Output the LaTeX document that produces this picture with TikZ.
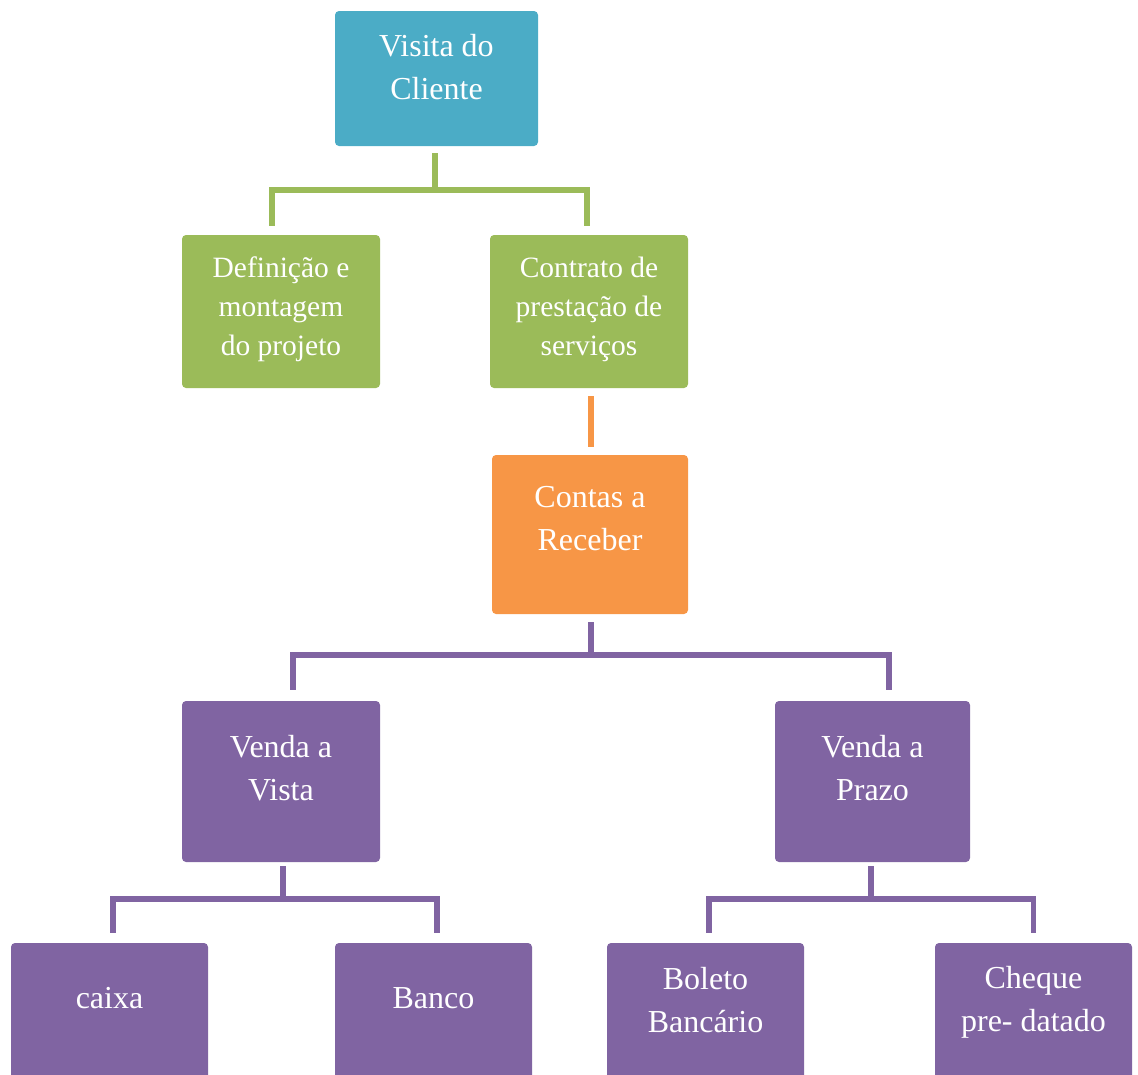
\documentclass[tikz,border=0pt]{standalone}
\usepackage{fontspec}
\setmainfont{Liberation Serif}
\usetikzlibrary{positioning}
\definecolor{cteal}{HTML}{4BACC6}
\definecolor{cgreen}{HTML}{9BBB59}
\definecolor{corange}{HTML}{F79646}
\definecolor{cpurple}{HTML}{8064A2}
\tikzstyle{box} = [rectangle, rounded corners=4pt, inner sep=0pt,
  minimum width=198pt, minimum height=161pt]
\tikzstyle{txt} = [text=white, align=center, inner sep=0pt,
  font=\fontsize{32}{43}\selectfont]
\tikzstyle{small} = [txt, font=\fontsize{29.5}{39}\selectfont]
\tikzstyle{link} = [line width=5.5pt]

\begin{document}
\begin{tikzpicture}[x=1pt,y=-1pt]

    \useasboundingbox (0,0) rectangle (1138,1074);
    \clip (0,0) rectangle (1138,1074);

    % boxes
    \node [box, fill=cteal, minimum width=203pt, minimum height=135pt] at (436.5,78.5) (visita) {};
    \node [box, fill=cgreen, minimum height=153pt] at (281,311.5) (def) {};
    \node [box, fill=cgreen, minimum height=153pt] at (589,311.5) (contr) {};
    \node [box, fill=corange, minimum width=196pt, minimum height=159pt] at (590,534.5) (contas) {};
    \node [box, fill=cpurple] at (281,781.5) (vvista) {};
    \node [box, fill=cpurple, minimum width=195pt] at (872.5,781.5) (vprazo) {};
    \node [box, fill=cpurple, minimum width=197pt] at (109.5,1023.5) (caixa) {};
    \node [box, fill=cpurple, minimum width=197pt] at (433.5,1023.5) (banco) {};
    \node [box, fill=cpurple, minimum width=197pt] at (705.5,1023.5) (boleto) {};
    \node [box, fill=cpurple, minimum width=197pt] at (1033.5,1023.5) (cheque) {};

    % texts
    \node [txt] at (436.5,67) (visita-t) {Visita do\\Cliente};
    \node [small] at (281,309.5) (def-t) {Definição e\\montagem\\do projeto};
    \node [small] at (589,309.5) (contr-t) {Contrato de\\prestação de\\serviços};
    \node [txt] at (590,519) (contas-t) {Contas a\\Receber};
    \node [txt] at (281,768) (vvista-t) {Venda a\\Vista};
    \node [txt] at (872.5,768) (vprazo-t) {Venda a\\Prazo};
    \node [txt] at (109.5,998) (caixa-t) {caixa};
    \node [txt] at (433.5,998) (banco-t) {Banco};
    \node [txt] at (705.5,1000) (boleto-t) {Boleto\\Bancário};
    \node [txt] at (1033.5,1002) (cheque-t) {Cheque\\pre- datado};

    % connectors
    \draw [link, cgreen] ([xshift=-1.5pt,yshift=-7pt]visita.south) -- ([xshift=-1.5pt,yshift=-44pt]visita.south);
    \draw [link, cgreen] ([xshift=-9pt,yshift=9pt]def.north) |- ([yshift=-44pt]visita.south)
        -| ([xshift=-2pt,yshift=9pt]contr.north);

    \draw [link, corange] ([xshift=2pt,yshift=-8pt]contr.south) -- ([xshift=1pt,yshift=8pt]contas.north);

    \draw [link, cpurple] ([xshift=1pt,yshift=-8pt]contas.south) -- ([xshift=1pt,yshift=-41pt]contas.south);
    \draw [link, cpurple] ([xshift=12pt,yshift=11pt]vvista.north) |- ([yshift=-41pt]contas.south)
        -| ([xshift=16.5pt,yshift=11pt]vprazo.north);

    \draw [link, cpurple] ([xshift=2pt,yshift=-4pt]vvista.south) -- ([xshift=2pt,yshift=-37pt]vvista.south);
    \draw [link, cpurple] ([xshift=3.5pt,yshift=10pt]caixa.north) |- ([yshift=-37pt]vvista.south)
        -| ([xshift=3.5pt,yshift=10pt]banco.north);

    \draw [link, cpurple] ([xshift=-1.5pt,yshift=-4pt]vprazo.south) -- ([xshift=-1.5pt,yshift=-37pt]vprazo.south);
    \draw [link, cpurple] ([xshift=3.5pt,yshift=10pt]boleto.north) |- ([yshift=-37pt]vprazo.south)
        -| ([yshift=10pt]cheque.north);

\end{tikzpicture}
\end{document}
